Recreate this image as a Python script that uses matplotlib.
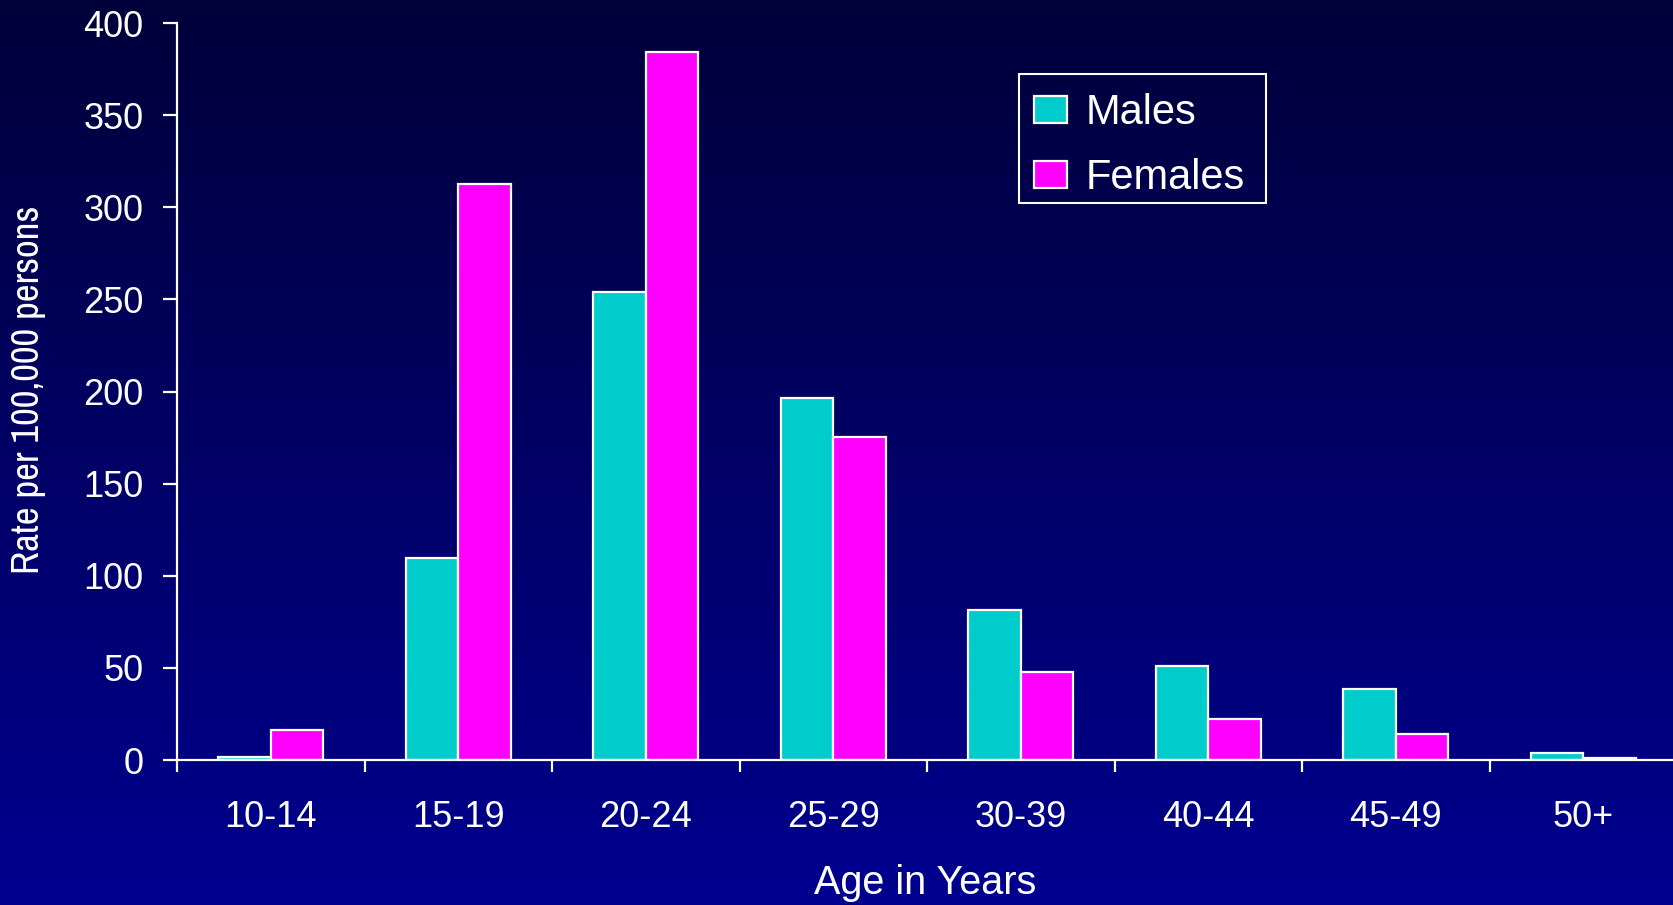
import numpy as np
import matplotlib
matplotlib.use("Agg")
import matplotlib.pyplot as plt
from matplotlib import font_manager
from matplotlib.patches import Rectangle

categories = ["10-14", "15-19", "20-24", "25-29", "30-39", "40-44", "45-49", "50+"]
males = [1.8, 109.5, 254.0, 196.5, 81.5, 51.0, 38.5, 4.0]
females = [16.3, 312.5, 384.5, 175.5, 48.0, 22.0, 14.0, 0.9]
series_names = ["Males", "Females"]
yticks = [0, 50, 100, 150, 200, 250, 300, 350, 400]

names = sorted({f.name for f in font_manager.fontManager.ttflist})
narrow_candidates = [n for n in names if ("Narrow" in n or "Condensed" in n)]
if narrow_candidates:
    narrow, ylab_size = narrow_candidates[0], 28
else:
    narrow, ylab_size = "Liberation Sans", 23.5
main_font = "Liberation Sans"

W, H = 1673, 905
fig = plt.figure(figsize=(W / 100, H / 100), dpi=100)

# background gradient
bg = fig.add_axes([0, 0, 1, 1], zorder=-10)
top = np.array([0x00, 0x00, 0x3a]) / 255
bot = np.array([0x00, 0x00, 0x90]) / 255
t = np.linspace(0, 1, 512)[:, None]
grad = (top[None, :] * (1 - t) + bot[None, :] * t)[:, None, :]
bg.imshow(np.repeat(grad, 2, axis=1), aspect="auto", extent=[0, 1, 0, 1])
bg.set_axis_off()

ax = fig.add_axes([177 / W, 1 - 760 / H, 1500 / W, (760 - 23) / H])
ax.set_facecolor("none")

x = np.arange(len(categories))
bw = 0.28
ax.bar(x - 0.14, males, width=bw, color="#00cccc", edgecolor="white", linewidth=1.6, label=series_names[0])
ax.bar(x + 0.14, females, width=bw, color="#ff00ff", edgecolor="white", linewidth=1.6, label=series_names[1])

ax.set_xlim(-0.5, 7.5)
ax.set_ylim(0, 400)
for s in ["top", "right"]:
    ax.spines[s].set_visible(False)
for s in ["left", "bottom"]:
    ax.spines[s].set_color("white")
    ax.spines[s].set_linewidth(1.6)

ax.set_yticks(yticks)
ax.set_yticklabels([str(v) for v in yticks], fontfamily=main_font, fontsize=26, color="white")
ax.tick_params(axis="y", direction="out", length=10, width=1.6, color="white", pad=14)

ax.set_xticks(np.arange(-0.5, 8.0, 1.0))
ax.set_xticklabels([])
ax.tick_params(axis="x", which="major", direction="out", length=8.5, width=1.6, color="white")
ax.set_xticks(x, minor=True)
ax.set_xticklabels(categories, minor=True, fontfamily=main_font, fontsize=26, color="white")
ax.tick_params(axis="x", which="minor", length=0, pad=29)

fig.text(925 / W, 1 - 894 / H, "Age in Years", fontfamily=main_font, fontsize=28.5,
         color="white", ha="center", va="baseline")
fig.text(29 / W, 1 - 390 / H, "Rate per 100,000 persons", fontfamily=narrow, fontsize=ylab_size,
         color="white", ha="center", va="center", rotation=90)

leg = ax.legend(loc="upper left", bbox_to_anchor=(1019 / W, 1 - 78.5 / H),
                bbox_transform=fig.transFigure, borderaxespad=0,
                prop={"family": main_font, "size": 30}, frameon=False,
                handlelength=0.8, handleheight=0.62, handletextpad=0.45,
                labelspacing=0.6, borderpad=0.35)
for txt in leg.get_texts():
    txt.set_color("white")

fig.add_artist(Rectangle((1019 / W, 1 - 203 / H), (1266 - 1019) / W, (203 - 74) / H,
                         transform=fig.transFigure, facecolor="none", edgecolor="white",
                         linewidth=1.5))

fig.savefig("out.png", dpi=100)
